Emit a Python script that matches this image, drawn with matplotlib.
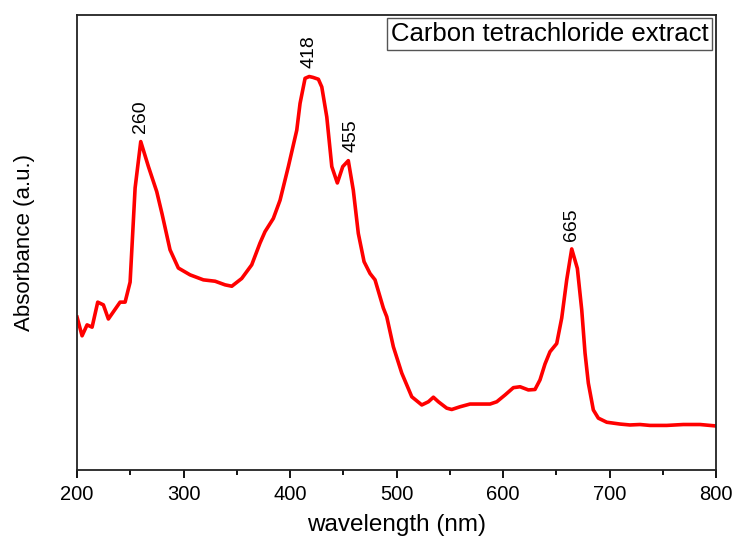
import matplotlib
matplotlib.use('Agg')
import matplotlib.pyplot as plt
import numpy as np

plt.rcParams['font.family'] = ['Liberation Sans', 'DejaVu Sans']

# UV-Vis spectrum (absorbance in arbitrary units)
wavelength = [200.0, 204.7, 209.4, 214.1, 219.4, 224.7, 229.4, 240.4, 245.1, 249.8,
              254.5, 259.8, 267.0, 274.8, 279.8, 287.3, 295.1, 306.1, 318.6, 329.6,
              339.0, 345.3, 354.6, 364.0, 371.8, 376.5, 384.3, 390.6, 398.4, 406.3,
              409.4, 414.1, 418.0, 421.6, 426.6, 429.8, 434.5, 439.2, 444.4, 449.5,
              454.7, 459.4, 464.1, 469.5, 475.1, 479.8, 487.6, 490.8, 497.0, 504.9,
              514.3, 523.7, 529.9, 534.6, 539.3, 547.1, 551.8, 559.6, 569.0, 578.4,
              587.8, 594.1, 601.9, 609.7, 616.0, 623.8, 630.0, 634.7, 639.4, 644.1,
              650.4, 655.1, 659.8, 664.5, 669.8, 673.9, 677.0, 680.1, 684.8, 689.5,
              697.4, 709.9, 719.2, 728.6, 738.0, 753.7, 769.3, 785.0, 799.1]
absorbance = [0.336, 0.295, 0.319, 0.314, 0.369, 0.363, 0.332, 0.369, 0.369, 0.413,
              0.620, 0.722, 0.667, 0.612, 0.563, 0.484, 0.444, 0.429, 0.418, 0.415,
              0.407, 0.404, 0.421, 0.451, 0.499, 0.524, 0.553, 0.593, 0.667, 0.747,
              0.806, 0.861, 0.865, 0.863, 0.859, 0.842, 0.776, 0.667, 0.631, 0.667,
              0.680, 0.615, 0.520, 0.458, 0.432, 0.418, 0.356, 0.337, 0.271, 0.213,
              0.161, 0.143, 0.150, 0.160, 0.150, 0.136, 0.133, 0.139, 0.145, 0.145,
              0.145, 0.150, 0.165, 0.181, 0.183, 0.176, 0.177, 0.198, 0.233, 0.260,
              0.278, 0.334, 0.418, 0.486, 0.443, 0.352, 0.257, 0.191, 0.132, 0.114,
              0.105, 0.101, 0.099, 0.100, 0.098, 0.098, 0.100, 0.100, 0.097]

peak_labels = ['260', '418', '455', '665']
peak_x = [259.8, 418.0, 454.7, 664.5]
peak_y = [0.722, 0.865, 0.680, 0.486]

fig = plt.figure(figsize=(7.34, 5.39), dpi=100)
ax = fig.add_axes([0.105, 0.128, 0.8705, 0.844])

ax.plot(wavelength, absorbance, color='#ff0000', lw=2.6, solid_joinstyle='round')

for lab, px, py in zip(peak_labels, peak_x, peak_y):
    dx = 2 if lab == '455' else 0
    ax.annotate(lab, (px, py), xytext=(dx, 6), textcoords='offset points',
                rotation=90, ha='center', va='bottom', fontsize=14)

ax.set_xlim(200, 800)
ax.set_ylim(0, 1)
ax.set_xticks([200, 300, 400, 500, 600, 700, 800])
ax.set_xticks(np.arange(250, 800, 100), minor=True)
ax.set_yticks([])
ax.tick_params(axis='x', which='major', direction='out', length=6, width=1.3,
               labelsize=14.5, pad=5)
ax.tick_params(axis='x', which='minor', direction='out', length=3.5, width=1.3)

for s in ax.spines.values():
    s.set_linewidth(1.3)
    s.set_color('#222222')

ax.set_xlabel('wavelength (nm)', fontsize=17.5, labelpad=7)
ax.set_ylabel('Absorbance (a.u.)', fontsize=16, labelpad=30)

ax.text(0.988, 0.985, 'Carbon tetrachloride extract', transform=ax.transAxes,
        ha='right', va='top', fontsize=18.5,
        bbox=dict(boxstyle='square,pad=0.15', fc='white', ec='#555555', lw=1))

fig.savefig('out.png', dpi=100)
